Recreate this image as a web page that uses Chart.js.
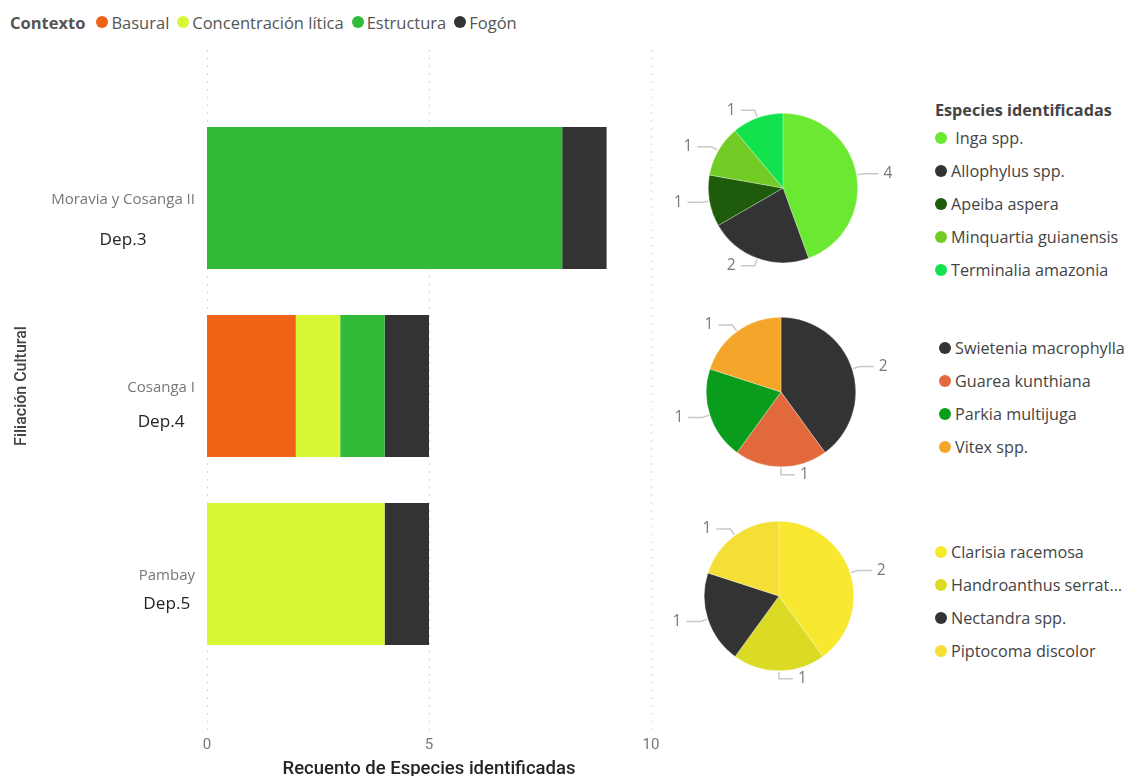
<!DOCTYPE html>
<html>
<head>
<meta charset="utf-8">
<script src="https://cdn.jsdelivr.net/npm/chart.js@4.4.1/dist/chart.umd.min.js"></script>
<style>
  body { margin: 0; background: #fff; }
  #pagina { position: relative; width: 1133px; height: 776px; overflow: hidden; font-family: "Open Sans", sans-serif; }
  #barras { position: absolute; left: 0; top: 0; }
  .pie { position: absolute; }
  .leyenda { position: absolute; color: #444; font-size: 16.2px; }
  .leyenda .tit { font-weight: 700; color: #444; height: 22px; line-height: 22px; }
  .leyenda .item { display: flex; align-items: center; height: 33px; white-space: pre; }
  .punto { display: inline-block; width: 12px; height: 12px; border-radius: 50%; flex: none; }
  .leyenda .punto { margin-right: 4px; }
  .leyenda .txt { overflow: hidden; text-overflow: ellipsis; max-width: 173px; }
  #contexto { position: absolute; left: 10px; top: 11px; display: flex; align-items: center; font-size: 16.5px; color: #555; height: 22px; }
  #contexto b { margin-right: 11px; }
  #contexto .it { display: flex; align-items: center; margin-right: 8px; }
  #contexto .punto { margin-right: 3px; }
</style>
</head>
<body>
<div id="pagina">
  <div id="contexto"><b>Contexto</b></div>
  <canvas id="barras" width="700" height="776"></canvas>
  <canvas id="pie3" class="pie" width="240" height="200" style="left:663px;top:88px"></canvas>
  <canvas id="pie4" class="pie" width="240" height="200" style="left:661px;top:292px"></canvas>
  <canvas id="pie5" class="pie" width="240" height="200" style="left:659px;top:496px"></canvas>
  <div id="ley3" class="leyenda" style="left:935px;top:99px"></div>
  <div id="ley4" class="leyenda" style="left:939px;top:331px"></div>
  <div id="ley5" class="leyenda" style="left:935px;top:535px"></div>
</div>
<script>
// Recuento por depósito y contexto
const filiacion = ["Moravia y Cosanga II", "Cosanga I", "Pambay"];
const depositos = ["Dep.3", "Dep.4", "Dep.5"];
const contextos = ["Basural", "Concentración lítica", "Estructura", "Fogón"];
const coloresContexto = ["#F06216", "#DAF736", "#30BC38", "#333333"];
const basural = [0, 2, 0];
const concentracion = [0, 1, 4];
const estructura = [8, 1, 0];
const fogon = [1, 1, 1];
const ejeX = [0, 5, 10];

// Especies identificadas por depósito
const especiesDep3 = [" Inga spp.", "Allophylus spp.", "Apeiba aspera", "Minquartia guianensis", "Terminalia amazonia"];
const recuentoDep3 = [4, 2, 1, 1, 1];
const coloresDep3 = ["#6BE832", "#333333", "#1E5C0B", "#73CC26", "#12E34C"];

const especiesDep4 = ["Swietenia macrophylla", "Guarea kunthiana", "Parkia multijuga", "Vitex spp."];
const recuentoDep4 = [2, 1, 1, 1];
const coloresDep4 = ["#333333", "#E2693B", "#0A9D1C", "#F4A62B"];

const especiesDep5 = ["Clarisia racemosa", "Handroanthus serratifolius", "Nectandra spp.", "Piptocoma discolor"];
const recuentoDep5 = [2, 1, 1, 1];
const coloresDep5 = ["#F8E830", "#DBDB26", "#333333", "#F5DE36"];

// separacion entre nombre y deposito en el eje
const sepDep = [40, 34, 28];

// leyenda de arriba
const cajaCtx = document.getElementById("contexto");
contextos.forEach(function (c, i) {
    const it = document.createElement("span");
    it.className = "it";
    it.innerHTML = '<span class="punto" style="background:' + coloresContexto[i] + '"></span>' + c;
    cajaCtx.appendChild(it);
});

// lineas punteadas verticales
const rejilla = {
    id: "rejilla",
    beforeDatasetsDraw(chart) {
        const ctx = chart.ctx;
        const xs = chart.scales.x;
        ctx.save();
        ctx.strokeStyle = "#c9c9c9";
        ctx.lineWidth = 1;
        ctx.setLineDash([1.5, 6.3]);
        xs.ticks.forEach(function (t) {
            const x = Math.round(xs.getPixelForValue(t.value)) + 0.5;
            ctx.beginPath();
            ctx.moveTo(x, 50);
            ctx.lineTo(x, 734);
            ctx.stroke();
        });
        ctx.restore();
    }
};

// etiquetas de dos lineas para cada categoria
const etiquetasY = {
    id: "etiquetasY",
    afterDraw(chart) {
        const ctx = chart.ctx;
        const ys = chart.scales.y;
        const f1 = '15px "Open Sans"';
        const f2 = '17.2px "Open Sans"';
        ctx.save();
        ctx.textAlign = "center";
        ctx.textBaseline = "middle";
        filiacion.forEach(function (nom, i) {
            const yc = ys.getPixelForValue(i);
            ctx.font = f1;
            const w1 = ctx.measureText(nom).width;
            ctx.font = f2;
            const w2 = ctx.measureText(depositos[i]).width;
            const cx = 195 - Math.max(w1, w2) / 2;
            ctx.font = f1;
            ctx.fillStyle = "#777";
            ctx.fillText(nom, cx, yc + 2);
            ctx.font = f2;
            ctx.fillStyle = "#252423";
            ctx.fillText(depositos[i], cx, yc + 2 + sepDep[i]);
        });
        ctx.restore();
    }
};

const series = [basural, concentracion, estructura, fogon];

new Chart(document.getElementById("barras"), {
    type: "bar",
    data: {
        labels: depositos,
        datasets: contextos.map(function (c, i) {
            return {
                label: c,
                data: series[i],
                backgroundColor: coloresContexto[i],
                borderWidth: 0,
                categoryPercentage: 1,
                barPercentage: 0.755
            };
        })
    },
    options: {
        indexAxis: "y",
        responsive: false,
        animation: false,
        layout: { padding: { top: 104, right: 49, bottom: 0, left: 0 } },
        plugins: { legend: { display: false }, tooltip: { enabled: false } },
        scales: {
            x: {
                stacked: true,
                min: 0,
                max: 10,
                afterBuildTicks: function (s) { s.ticks = ejeX.map(function (v) { return { value: v }; }); },
                afterFit: function (s) { s.height = 108; },
                grid: { display: false, drawTicks: true, tickLength: 66 },
                border: { display: false },
                ticks: { color: "#777", font: { family: "Roboto", size: 15 }, padding: 2 },
                title: {
                    display: true,
                    text: "Recuento de Especies identificadas",
                    color: "#252423",
                    font: { family: "Roboto", size: 18.5, weight: "500" },
                    padding: { top: 0, bottom: -4 }
                }
            },
            y: {
                stacked: true,
                afterFit: function (s) { s.width = 207; },
                grid: { display: false, drawTicks: false },
                border: { display: false },
                ticks: { display: false },
                title: {
                    display: true,
                    text: "Filiación Cultural",
                    color: "#444",
                    font: { family: "Roboto", size: 16, weight: "500" },
                    padding: { top: 12, bottom: 0 }
                }
            }
        }
    },
    plugins: [rejilla, etiquetasY]
});

// valores con linea guia fuera de cada porcion
const etiquetasPie = {
    id: "etiquetasPie",
    afterDatasetsDraw(chart) {
        const ctx = chart.ctx;
        const valores = chart.data.datasets[0].data;
        ctx.save();
        chart.getDatasetMeta(0).data.forEach(function (arc, i) {
            const a = (arc.startAngle + arc.endAngle) / 2;
            const r = arc.outerRadius;
            const ux = Math.cos(a), uy = Math.sin(a);
            const lado = ux >= 0 ? 1 : -1;
            const x1 = arc.x + ux * (r + 1), y1 = arc.y + uy * (r + 1);
            const x2 = arc.x + ux * (r + 8), y2 = arc.y + uy * (r + 8);
            const x3 = x2 + lado * 14;
            ctx.strokeStyle = "#c8c8c8";
            ctx.lineWidth = 1.5;
            ctx.beginPath();
            ctx.moveTo(x1, y1);
            ctx.lineTo(x2, y2);
            ctx.lineTo(x3, y2);
            ctx.stroke();
            ctx.fillStyle = "#777";
            ctx.font = '15.5px "Open Sans"';
            ctx.textAlign = lado > 0 ? "left" : "right";
            ctx.textBaseline = "middle";
            ctx.fillText(String(valores[i]), x3 + lado * 5, y2);
        });
        ctx.restore();
    }
};

function pastel(id, especies, recuento, colores, leyId, titulo) {
    new Chart(document.getElementById(id), {
        type: "pie",
        data: {
            labels: especies,
            datasets: [{ data: recuento, backgroundColor: colores, borderColor: "rgba(255,255,255,0.6)", borderWidth: 0.5 }]
        },
        options: {
            responsive: false,
            animation: false,
            layout: { padding: 25 },
            plugins: { legend: { display: false }, tooltip: { enabled: false } }
        },
        plugins: [etiquetasPie]
    });
    const ley = document.getElementById(leyId);
    if (titulo) {
        const t = document.createElement("div");
        t.className = "tit";
        t.textContent = titulo;
        ley.appendChild(t);
    }
    especies.forEach(function (e, i) {
        const it = document.createElement("div");
        it.className = "item";
        it.innerHTML = '<span class="punto" style="background:' + colores[i] + '"></span><span class="txt">' + e + '</span>';
        ley.appendChild(it);
    });
}

pastel("pie3", especiesDep3, recuentoDep3, coloresDep3, "ley3", "Especies identificadas");
pastel("pie4", especiesDep4, recuentoDep4, coloresDep4, "ley4", null);
pastel("pie5", especiesDep5, recuentoDep5, coloresDep5, "ley5", null);
</script>
</body>
</html>
